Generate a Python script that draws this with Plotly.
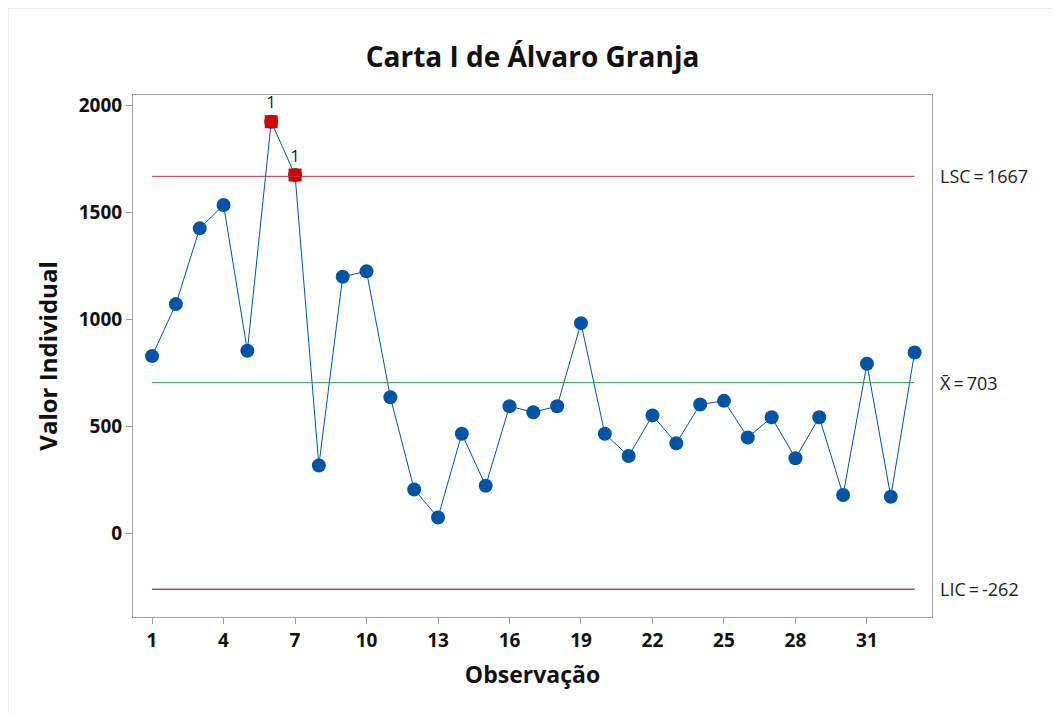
import plotly.graph_objects as go

obs = list(range(1, 34))
values = [827, 1070, 1424, 1533, 852, 1922, 1673, 316, 1198, 1223, 635, 204, 73,
          464, 221, 593, 565, 593, 981, 464, 360, 550, 420, 601, 618, 447, 541,
          350, 541, 178, 791, 170, 844]
ucl = 1667
center = 703
lcl = -262
x_ticks = [1, 4, 7, 10, 13, 16, 19, 22, 25, 28, 31]
y_ticks = [0, 500, 1000, 1500, 2000]
flagged_obs = [6, 7]

FONT = "Open Sans"
BLUE = "#0054a6"
RED = "#d40000"

L, R, T, B = 125, 136, 87, 104
PW, PH = 1060 - L - R, 713 - T - B

fig = go.Figure()
fig.add_trace(go.Scatter(x=obs, y=values, mode="lines+markers",
                         line=dict(color=BLUE, width=1),
                         marker=dict(color=BLUE, size=14, symbol="circle"),
                         hoverinfo="x+y", showlegend=False))
fx = list(flagged_obs)
fy = [values[o - 1] for o in flagged_obs]
fig.add_trace(go.Scatter(x=fx, y=fy, mode="markers+text",
                         marker=dict(color=RED, size=13, symbol="square"),
                         text=["1"] * len(fx), textposition="top center",
                         textfont=dict(family=FONT, size=17, color="#222"),
                         showlegend=False))

for val, col in [(ucl, "#a83a3a"), (center, "#2e9e3e"), (lcl, "#4a1010")]:
    fig.add_shape(type="line", x0=obs[0], x1=obs[-1], y0=val, y1=val,
                  xref="x", yref="y", line=dict(color=col, width=1))

labels = [(ucl, f"LSC\u2009=\u2009{ucl}"), (center, f"X\u0304\u2009=\u2009{center}"),
          (lcl, f"LIC\u2009=\u2009{lcl}")]
for val, txt in labels:
    fig.add_annotation(x=1.0, xref="paper", xshift=6, y=val, yref="y",
                       text=txt, showarrow=False, xanchor="left", yanchor="middle",
                       font=dict(family=FONT, size=18, color="#222"))

# outer frame
fig.add_shape(type="rect", xref="paper", yref="paper",
              x0=-L / PW, x1=1 + (R - 1) / PW, y0=-(B - 1) / PH, y1=1 + T / PH,
              line=dict(color="#dcdcdc", width=1), layer="below")

fig.update_layout(
    width=1060, height=713,
    margin=dict(l=L, r=R, t=T, b=B),
    paper_bgcolor="white", plot_bgcolor="white",
    title=dict(text="<b>Carta I de Álvaro Granja</b>", x=0.5, xref="paper",
               xanchor="center", y=1 - 49 / 713, yanchor="middle",
               font=dict(family=FONT, size=28, color="#111")),
    font=dict(family=FONT, color="#111"),
    xaxis=dict(range=[0.2, 33.73], tickvals=x_ticks, ticks="outside", ticklen=6,
               tickcolor="#999", showgrid=False, zeroline=False,
               showline=True, linecolor="#a0a0a0", mirror=True,
               tickfont=dict(family=FONT, size=19, weight="bold", color="#111"),
               title=dict(text="<b>Observação</b>", standoff=15,
                          font=dict(family=FONT, size=23, color="#111"))),
    yaxis=dict(range=[-392, 2047], tickvals=y_ticks, ticks="outside", ticklen=6,
               tickcolor="#999", showgrid=False, zeroline=False,
               showline=True, linecolor="#a0a0a0", mirror=True,
               tickfont=dict(family=FONT, size=19, weight="bold", color="#111"),
               title=dict(text="<b>Valor Individual</b>", standoff=14,
                          font=dict(family=FONT, size=24, color="#111"))),
)

fig.write_html("out.html")
